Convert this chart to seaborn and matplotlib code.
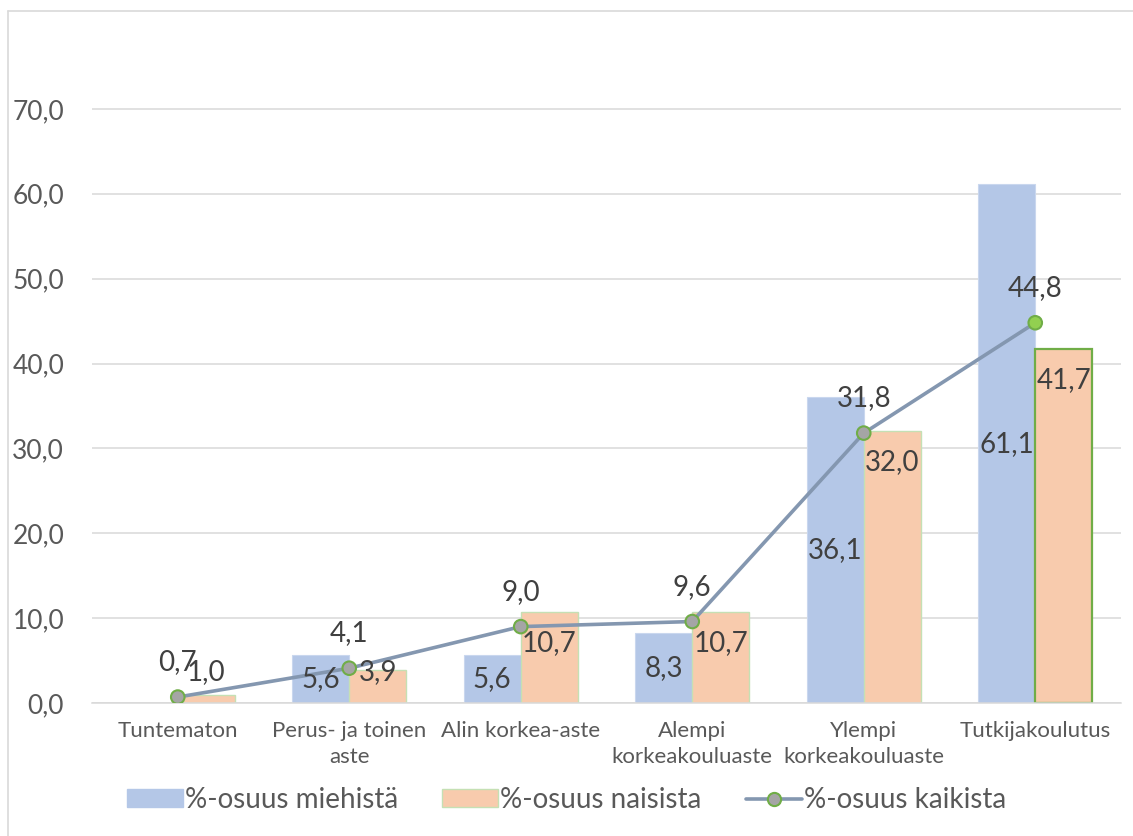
import numpy as np
import pandas as pd
import matplotlib
matplotlib.use("Agg")
import matplotlib.pyplot as plt
from matplotlib.lines import Line2D
from matplotlib.patches import Patch
import seaborn as sns

# --- data -------------------------------------------------------------
categories = ["Tuntematon", "Perus- ja toinen\naste", "Alin korkea-aste",
              "Alempi\nkorkeakouluaste", "Ylempi\nkorkeakouluaste", "Tutkijakoulutus"]
miehista = [np.nan, 5.6, 5.6, 8.3, 36.1, 61.1]
naisista = [1.0, 3.9, 10.7, 10.7, 32.0, 41.7]
kaikista = [0.7, 4.1, 9.0, 9.6, 31.8, 44.8]
series_names = ["%-osuus miehistä", "%-osuus naisista", "%-osuus kaikista"]
y_ticks = [0, 10, 20, 30, 40, 50, 60, 70]

# --- style ------------------------------------------------------------
sns.set_theme(style="white")
plt.rcParams["font.family"] = ["Lato", "DejaVu Sans"]

BLUE = "#B4C7E7"
PEACH = "#F8CBAD"
LIGHT_GREEN = "#C5E0B4"
GREEN = "#70AD47"
LINE = "#8497B0"
GRID = "#D9D9D9"
TICK_TXT = "#595959"
LABEL_TXT = "#404040"
GROUP_W = 0.667
BAR_OFF = GROUP_W / 4

df = pd.DataFrame({
    "kategoria": categories * 2,
    "arvo": miehista + naisista,
    "sarja": [series_names[0]] * len(categories) + [series_names[1]] * len(categories),
})

fig = plt.figure(figsize=(11.33, 8.36), dpi=100)
ax = fig.add_axes([92 / 1133, 1 - 703 / 836, (1121 - 92) / 1133, (703 - 24) / 836])

sns.barplot(data=df, x="kategoria", y="arvo", hue="sarja", order=categories,
            hue_order=series_names[:2], palette=[BLUE, PEACH], width=GROUP_W,
            saturation=1, legend=False, ax=ax, zorder=2)

men_bars, women_bars = ax.containers[0], ax.containers[1]
for p in men_bars:
    p.set_edgecolor("#C9D7EE")
    p.set_linewidth(0.8)
n_women = len(women_bars)
for i, p in enumerate(women_bars):
    last = i == n_women - 1
    p.set_edgecolor(GREEN if last else LIGHT_GREEN)
    p.set_linewidth(1.6 if last else 1.0)

# total share line with markers
xs = np.arange(len(categories))
ax.plot(xs, kaikista, color=LINE, lw=2.6, zorder=4, solid_capstyle="round")
faces = ["#A5A5A5"] * (len(categories) - 1) + ["#92D050"]
ax.scatter(xs, kaikista, s=95, c=faces, edgecolors=GREEN, linewidths=1.5, zorder=5)

# data labels
def fmt(v):
    return f"{v:.1f}".replace(".", ",")

lab_kw = dict(fontsize=20, color=LABEL_TXT, ha="center", va="center", zorder=6)
for i, v in enumerate(miehista):
    if np.isnan(v):
        continue
    ax.text(i - BAR_OFF, v / 2, fmt(v), **lab_kw)
for i, v in enumerate(naisista):
    ax.text(i + BAR_OFF, max(v - 3.6, 3.6), fmt(v), **lab_kw)
for i, v in enumerate(kaikista):
    ax.annotate(fmt(v), (i, v), xytext=(0, 25), textcoords="offset points", **lab_kw)

# axes
ax.set_xlim(-0.5, len(categories) - 0.5)
ax.set_ylim(0, 80)
ax.set_yticks(y_ticks)
ax.set_yticklabels([fmt(t) for t in y_ticks], fontsize=19, color=TICK_TXT)
ax.yaxis.grid(True, color=GRID, lw=1.1, zorder=0)
ax.set_axisbelow(True)
ax.tick_params(axis="y", length=0, pad=20)
ax.set_xticks(xs)
ax.set_xticklabels(categories, fontsize=16, color=TICK_TXT, linespacing=1.4)
ax.tick_params(axis="x", which="major", length=0, pad=13)
ax.set_xticks(np.arange(-0.5, len(categories), 1.0), minor=True)
ax.tick_params(axis="x", which="minor", length=7, width=1.1, color=GRID, direction="out")
ax.set_xlabel("")
ax.set_ylabel("")
for s in ["top", "right", "left"]:
    ax.spines[s].set_visible(False)
ax.spines["bottom"].set_color(GRID)
ax.spines["bottom"].set_linewidth(1.1)

# legend
handles = [
    Patch(facecolor=BLUE, edgecolor=BLUE, label=series_names[0]),
    Patch(facecolor=PEACH, edgecolor=LIGHT_GREEN, label=series_names[1]),
    Line2D([0], [0], color=LINE, lw=2.6, marker="o", markersize=9.5,
           markerfacecolor="#A5A5A5", markeredgecolor=GREEN, markeredgewidth=1.5,
           label=series_names[2]),
]
leg = fig.legend(handles=handles, loc="center", bbox_to_anchor=(0.5, 1 - 800 / 836),
                 ncol=3, frameon=False, fontsize=20, handlelength=2.0,
                 handleheight=0.6, handletextpad=0.08, columnspacing=1.6)
for t in leg.get_texts():
    t.set_color(TICK_TXT)

# chart-area border (left and top edges)
fig.add_artist(Line2D([8 / 1133, 8 / 1133], [0, 1 - 11 / 836], color=GRID, lw=1.2))
fig.add_artist(Line2D([8 / 1133, 1], [1 - 11 / 836, 1 - 11 / 836], color=GRID, lw=1.2))

fig.savefig("out.png", dpi=100, facecolor="white")
